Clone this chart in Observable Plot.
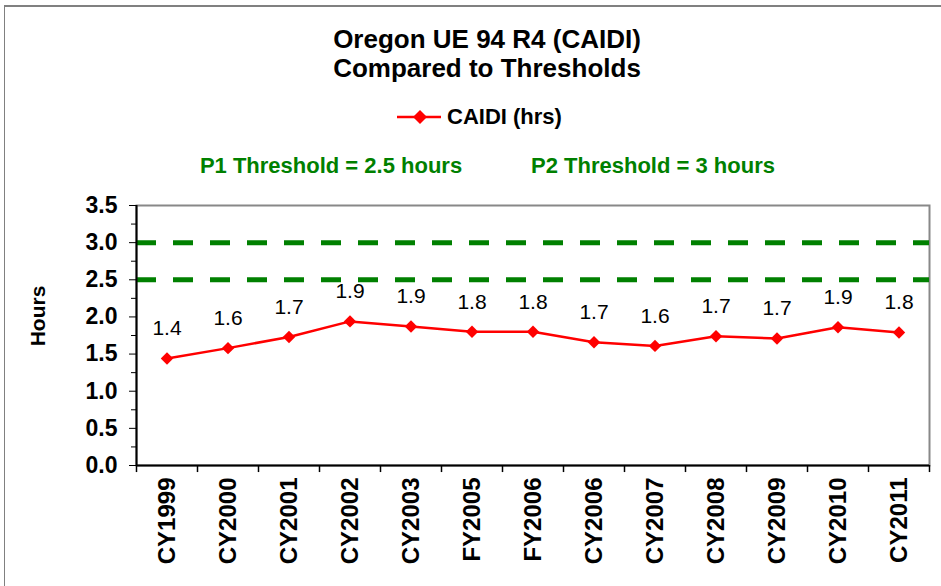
<!DOCTYPE html>
<html><head><meta charset="utf-8">
<script src="https://cdn.jsdelivr.net/npm/d3@7"></script>
<script src="https://cdn.jsdelivr.net/npm/@observablehq/plot@0.6"></script>
<style>
body{margin:0;background:#fff;font-family:"Liberation Sans",Arial,sans-serif;color:#000;}
#wrap{position:relative;width:941px;height:586px;overflow:hidden;background:#fff;}
#border{position:absolute;left:4px;top:5px;width:1000px;height:700px;border-left:1px solid #808080;border-top:2px solid #808080;}
#title{position:absolute;left:237px;width:500px;top:25px;text-align:center;font-weight:bold;font-size:26px;line-height:29px;}
#legend{position:absolute;left:395px;top:105px;height:24px;display:flex;align-items:center;}
#legend span{font-weight:bold;font-size:22px;margin-left:4px;}
.thr{position:absolute;top:153px;width:360px;text-align:center;font-weight:bold;font-size:22px;line-height:26px;color:#008000;}
#ylab{position:absolute;left:38px;top:316px;transform:translate(-50%,-50%) rotate(-90deg);font-weight:bold;font-size:21px;white-space:nowrap;}
#chart{position:absolute;left:0;top:0;}
</style></head>
<body>
<div id="wrap">
  <div id="border"></div>
  <div id="chart"></div>
  <div id="title">Oregon UE 94 R4 (CAIDI)<br>Compared to Thresholds</div>
  <div id="legend"><svg width="48" height="24"><line x1="2" x2="46" y1="12" y2="12" stroke="#ff0000" stroke-width="2.5"/><path d="M25,5L32,12L25,19L18,12Z" fill="#ff0000"/></svg><span>CAIDI (hrs)</span></div>
  <div class="thr" style="left:151px">P1 Threshold = 2.5 hours</div>
  <div class="thr" style="left:473px">P2 Threshold = 3 hours</div>
  <div id="ylab">Hours</div>
</div>
<script>
const categories = ["CY1999","CY2000","CY2001","CY2002","CY2003","FY2005","FY2006","CY2006","CY2007","CY2008","CY2009","CY2010","CY2011"];
const caidi = [1.44,1.58,1.73,1.94,1.87,1.80,1.80,1.66,1.61,1.74,1.71,1.86,1.79];
const thresholds = [2.5, 3.0];
const yMajorTicks = [0,0.5,1.0,1.5,2.0,2.5,3.0,3.5];
const yMinorTicks = [0.25,0.75,1.25,1.75,2.25,2.75,3.25];

const data = categories.map((c,i)=>({cat:c, v:caidi[i]}));
const fmt = d3.format(".1f");
const half = (941-136-12)/categories.length/2;

const chart = Plot.plot({
  width:941, height:586,
  marginLeft:136, marginRight:12, marginTop:205, marginBottom:121,
  style:{fontFamily:"'Liberation Sans', Arial, sans-serif", background:"transparent", overflow:"visible", color:"#000"},
  x:{type:"band", domain:categories, padding:0, label:null},
  y:{domain:[0,3.5], label:null},
  marks:[
    Plot.frame({stroke:"#888", strokeWidth:2}),
    Plot.ruleY(thresholds, {stroke:"#008000", strokeWidth:5, strokeDasharray:"20,17"}),
    Plot.ruleY([0], {stroke:"#000", strokeWidth:2}),
    Plot.ruleX([categories[0]], {dx:-half, stroke:"#000", strokeWidth:2}),
    Plot.ruleX(categories, {dx:-half, y1:0, y2:-0.095, stroke:"#000", strokeWidth:1.5}),
    Plot.ruleX([categories[categories.length-1]], {dx:half, y1:0, y2:-0.095, stroke:"#000", strokeWidth:1.5}),
    Plot.axisY(yMinorTicks, {tickSize:5, tickFormat:()=>"", stroke:"#000"}),
    Plot.axisY(yMajorTicks, {tickSize:7, tickPadding:12, tickFormat:fmt, fontSize:23, fontWeight:"bold", stroke:"#000", label:null}),
    Plot.axisX({tickSize:0, tickRotate:-90, tickPadding:12, fontSize:24, fontWeight:"bold", label:null}),
    Plot.line(data, {x:"cat", y:"v", stroke:"#ff0000", strokeWidth:2.5}),
    Plot.dot(data, {x:"cat", y:"v", symbol:"diamond2", r:5.6, fill:"#ff0000", stroke:"none"}),
    Plot.text(data, {x:"cat", y:"v", text:d=>fmt(d.v), dy:-30, fontSize:21, fill:"#000"})
  ]
});
document.getElementById("chart").appendChild(chart);
</script>
</body></html>
